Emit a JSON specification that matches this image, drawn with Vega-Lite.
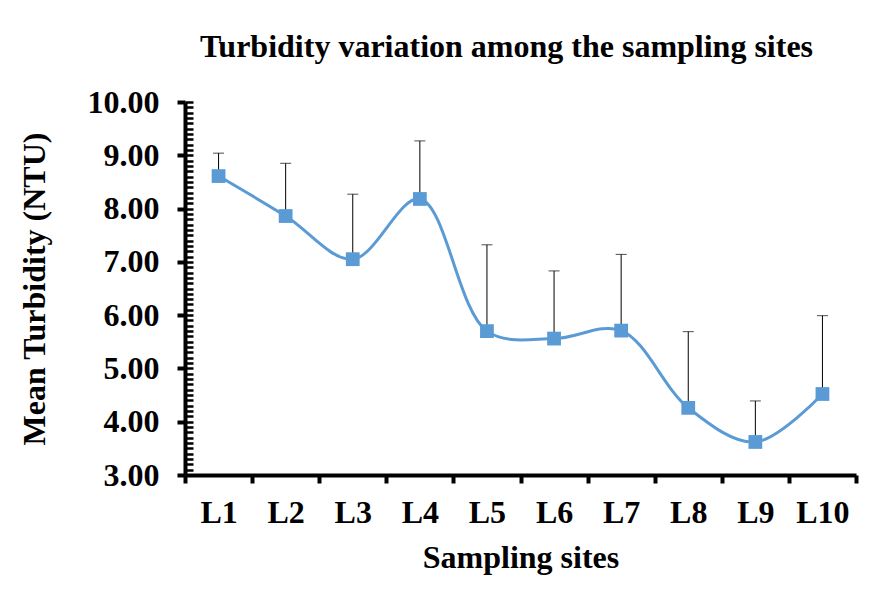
{
  "$schema": "https://vega.github.io/schema/vega-lite/v6.json",
  "width": 671,
  "height": 373,
  "autosize": {"type": "none"},
  "padding": {"left": 185, "top": 102, "right": 18, "bottom": 126},
  "background": "white",
  "title": {
    "text": "Turbidity variation among the sampling sites",
    "font": "Liberation Serif",
    "fontSize": 32,
    "fontWeight": "bold",
    "color": "black",
    "anchor": "middle",
    "dx": -14,
    "offset": 22
  },
  "data": {
    "values": [
      {"site": "L1", "mean": 8.61, "upper": 9.04},
      {"site": "L2", "mean": 7.86, "upper": 8.85},
      {"site": "L3", "mean": 7.05, "upper": 8.27},
      {"site": "L4", "mean": 8.18, "upper": 9.27},
      {"site": "L5", "mean": 5.70, "upper": 7.32},
      {"site": "L6", "mean": 5.56, "upper": 6.83},
      {"site": "L7", "mean": 5.71, "upper": 7.14},
      {"site": "L8", "mean": 4.26, "upper": 5.69},
      {"site": "L9", "mean": 3.62, "upper": 4.39},
      {"site": "L10", "mean": 4.52, "upper": 5.99}
    ]
  },
  "encoding": {
    "x": {
      "field": "site",
      "type": "ordinal",
      "sort": null,
      "scale": {"paddingInner": 0, "paddingOuter": 0},
      "axis": {
        "title": "Sampling sites",
        "labelAngle": 0,
        "tickBand": "extent",
        "domainColor": "black",
        "domainWidth": 4,
        "tickColor": "black",
        "tickWidth": 4,
        "tickSize": 8,
        "labelPadding": 14,
        "titlePadding": 14
      }
    }
  },
  "layer": [
    {
      "mark": {"type": "line", "color": "#5B9BD5", "strokeWidth": 3, "interpolate": "catmull-rom"},
      "encoding": {
        "y": {
          "field": "mean",
          "type": "quantitative",
          "scale": {"domain": [3, 10], "nice": false, "zero": false},
          "axis": {
            "title": "Mean Turbidity (NTU)",
            "values": [3, 4, 5, 6, 7, 8, 9, 10],
            "format": ".2f",
            "grid": false,
            "domainColor": "black",
            "domainWidth": 4,
            "tickColor": "black",
            "tickWidth": 4,
            "tickSize": 8,
            "labelPadding": 18,
            "titlePadding": 36
          }
        }
      }
    },
    {
      "mark": {"type": "rule", "color": "black", "strokeWidth": 1},
      "encoding": {
        "y": {
          "field": "mean",
          "type": "quantitative",
          "axis": {
            "orient": "right",
            "offset": -671,
            "title": null,
            "labels": false,
            "domain": false,
            "grid": false,
            "values": [3.1,3.2,3.3,3.4,3.5,3.6,3.7,3.8,3.9,4,4.1,4.2,4.3,4.4,4.5,4.6,4.7,4.8,4.9,5,5.1,5.2,5.3,5.4,5.5,5.6,5.7,5.8,5.9,6,6.1,6.2,6.3,6.4,6.5,6.6,6.7,6.8,6.9,7,7.1,7.2,7.3,7.4,7.5,7.6,7.7,7.8,7.9,8,8.1,8.2,8.3,8.4,8.5,8.6,8.7,8.8,8.9,9,9.1,9.2,9.3,9.4,9.5,9.6,9.7,9.8,9.9,10],
            "tickColor": "black",
            "tickWidth": 2.5,
            "tickSize": 8
          }
        },
        "y2": {"field": "upper"}
      }
    },
    {
      "mark": {"type": "tick", "color": "black", "size": 11, "thickness": 1, "orient": "horizontal"},
      "encoding": {
        "y": {"field": "upper", "type": "quantitative", "axis": null}
      }
    },
    {
      "mark": {"type": "point", "shape": "square", "filled": true, "color": "#5B9BD5", "size": 190, "opacity": 1},
      "encoding": {
        "y": {"field": "mean", "type": "quantitative", "axis": null}
      }
    }
  ],
  "resolve": {"axis": {"y": "independent"}},
  "config": {
    "font": "Liberation Serif",
    "view": {"stroke": null},
    "axis": {
      "labelFont": "Liberation Serif",
      "labelFontSize": 32,
      "labelFontWeight": "bold",
      "labelColor": "black",
      "titleFont": "Liberation Serif",
      "titleFontSize": 32,
      "titleFontWeight": "bold",
      "titleColor": "black"
    }
  }
}
